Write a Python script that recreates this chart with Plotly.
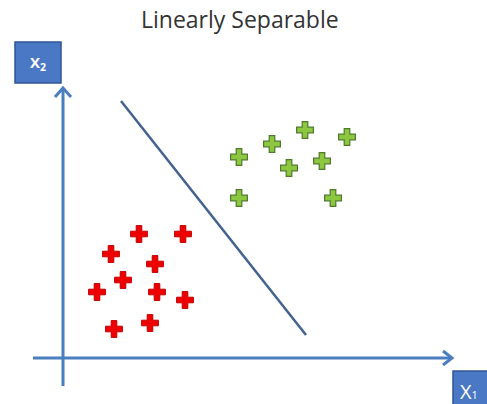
import plotly.graph_objects as go

# Data (diagram coordinates)
red_x = [139, 183, 111, 155, 123, 97, 157, 185, 150, 114]
red_y = [234, 234, 254, 264, 280, 292, 292, 300, 323, 329]
green_x = [305, 347, 272, 239, 322, 289, 239, 333]
green_y = [130, 137, 144, 157, 161, 168, 198, 198]
sep_x = [121, 306]
sep_y = [101, 335]
title = "Linearly Separable"
x1_label = "X<span style='font-size:11px'>1</span>"
x2_label = "X<sub>2</sub>"

AX = "#4a7ebf"
fig = go.Figure()

# axes lines
fig.add_trace(go.Scatter(x=[63, 63], y=[386, 89], mode="lines",
                         line=dict(color=AX, width=3), hoverinfo="skip"))
fig.add_trace(go.Scatter(x=[55, 63, 71], y=[97, 88, 97], mode="lines",
                         line=dict(color=AX, width=3), hoverinfo="skip"))
fig.add_trace(go.Scatter(x=[33, 451], y=[358, 358], mode="lines",
                         line=dict(color=AX, width=3), hoverinfo="skip"))
fig.add_trace(go.Scatter(x=[443, 452, 443], y=[351, 358, 365], mode="lines",
                         line=dict(color=AX, width=3), hoverinfo="skip"))

# separating line
fig.add_trace(go.Scatter(x=sep_x, y=sep_y, mode="lines",
                         line=dict(color="#44628f", width=2.5), hoverinfo="skip"))

# points
fig.add_trace(go.Scatter(x=red_x, y=red_y, mode="markers",
                         marker=dict(symbol="cross", size=14, color="#ee0000",
                                     line=dict(color="#c00000", width=1))))
fig.add_trace(go.Scatter(x=green_x, y=green_y, mode="markers",
                         marker=dict(symbol="cross", size=14, color="#8dc63f",
                                     line=dict(color="#4e7a2a", width=1.2))))

shapes = [
    dict(type="rect", xref="x", yref="y", x0=15, x1=61, y0=42, y1=83,
         fillcolor="#4a78c4", line=dict(color="#2f5597", width=1.5), layer="below"),
    dict(type="rect", xref="x", yref="y", x0=453, x1=492, y0=371, y1=410,
         fillcolor="#4a78c4", line=dict(color="#2f5597", width=1.5), layer="below"),
]
annotations = [
    dict(x=38, y=63, xref="x", yref="y", text="<b>" + x2_label + "</b>", showarrow=False,
         font=dict(family="Open Sans", size=15, color="white")),
    dict(x=458, y=391, xref="x", yref="y", xanchor="left", text=x1_label, showarrow=False,
         font=dict(family="Open Sans", size=20, color="white")),
    dict(x=240, y=19, xref="x", yref="y", text=title, showarrow=False,
         font=dict(family="Open Sans", size=23, color="#333333")),
]

fig.update_layout(
    width=487, height=404, margin=dict(l=0, r=0, t=0, b=0),
    paper_bgcolor="white", plot_bgcolor="white", showlegend=False,
    xaxis=dict(range=[0, 487], visible=False, fixedrange=True),
    yaxis=dict(range=[404, 0], visible=False, fixedrange=True),
    shapes=shapes, annotations=annotations,
)

fig.write_html("out.html", config={"displayModeBar": False},
               post_script="document.body.style.margin='0';document.body.style.overflow='hidden';")
